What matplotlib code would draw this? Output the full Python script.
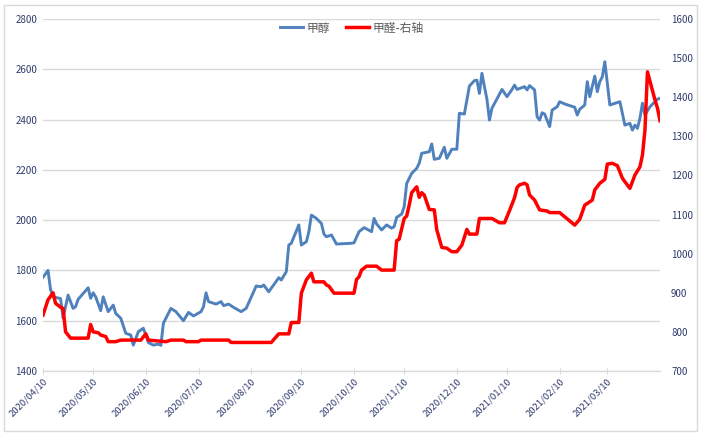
import matplotlib
matplotlib.use('Agg')
import matplotlib.pyplot as plt
from matplotlib.patches import Rectangle

plt.rcParams['font.family'] = ['Noto Sans CJK SC', 'DejaVu Sans']

# trading-day index -> price, methanol (left axis)
meoh_day = [0, 2, 3, 4, 7, 8, 10, 12, 13, 14, 18, 19, 20, 21, 23, 24, 26, 28, 29, 31,
            33, 35, 36, 38, 40, 41, 42, 44, 46, 47, 48, 51, 53, 56, 58, 60, 63, 64, 65, 66,
            69, 71, 72, 74, 76, 79, 81, 85, 87, 88, 90, 94, 95, 97, 98, 99, 102, 103, 105, 106,
            107, 109, 111, 112, 113, 115, 117, 123, 124, 126, 128, 129, 131, 132, 133, 135, 137, 139, 140, 141,
            143, 144, 145, 147, 149, 150, 151, 154, 155, 156, 158, 160, 161, 163, 165, 166, 168, 170, 172, 173,
            174, 175, 176, 177, 178, 179, 183, 185, 187, 188, 189, 192, 193, 194, 196, 197, 198, 199, 200, 202,
            203, 205, 206, 208, 212, 213, 214, 216, 217, 218, 220, 221, 222, 223, 224, 226, 230, 232, 234, 235,
            236, 237, 238, 239, 240, 242, 245, 246]
meoh_val = [1773, 1800, 1724, 1695, 1688, 1610, 1702, 1649, 1656, 1685, 1731, 1689, 1711, 1695, 1640, 1695, 1636, 1662, 1629, 1610,
            1550, 1543, 1503, 1556, 1570, 1543, 1513, 1503, 1507, 1502, 1590, 1649, 1636, 1600, 1633, 1619, 1636, 1656, 1711, 1676,
            1666, 1676, 1660, 1666, 1653, 1636, 1649, 1738, 1735, 1742, 1715, 1771, 1762, 1795, 1901, 1908, 1981, 1901, 1914, 1954,
            2020, 2007, 1987, 1945, 1934, 1941, 1905, 1908, 1910, 1954, 1970, 1965, 1954, 2007, 1985, 1961, 1981, 1968, 1974, 2011,
            2024, 2053, 2146, 2186, 2206, 2226, 2266, 2272, 2303, 2242, 2246, 2290, 2246, 2282, 2282, 2425, 2422, 2533, 2555, 2557,
            2504, 2584, 2531, 2481, 2398, 2445, 2520, 2491, 2520, 2537, 2520, 2531, 2518, 2535, 2518, 2411, 2398, 2427, 2422, 2372,
            2438, 2451, 2471, 2462, 2449, 2418, 2441, 2458, 2551, 2491, 2573, 2511, 2551, 2570, 2630, 2458, 2471, 2378, 2385, 2358,
            2378, 2365, 2405, 2465, 2418, 2451, 2481, 2485]

# formaldehyde (right axis)
hcho_day = [0, 2, 4, 5, 7, 8, 9, 10, 11, 18, 19, 20, 22, 23, 25, 26, 29, 31, 39, 41,
            42, 49, 51, 56, 57, 62, 63, 74, 75, 91, 94, 98, 99, 102, 103, 105, 107, 108, 112, 113,
            114, 116, 124, 125, 126, 127, 129, 133, 135, 140, 141, 142, 144, 145, 146, 147, 149, 150, 151, 152,
            154, 156, 157, 159, 161, 163, 165, 167, 169, 170, 173, 174, 179, 182, 184, 186, 188, 189, 190, 192,
            193, 194, 196, 198, 201, 202, 206, 212, 214, 216, 219, 220, 222, 224, 225, 227, 229, 231, 232, 234,
            236, 238, 239, 240, 241, 244, 245, 246]
hcho_val = [843, 882, 900, 873, 863, 860, 800, 792, 784, 784, 819, 800, 798, 792, 788, 775, 775, 779, 779, 795,
            779, 775, 779, 779, 775, 775, 779, 779, 773, 773, 795, 795, 824, 824, 899, 933, 950, 928, 928, 920,
            917, 899, 899, 934, 941, 958, 968, 968, 958, 958, 1033, 1037, 1090, 1096, 1124, 1156, 1171, 1144, 1156, 1150,
            1113, 1112, 1061, 1016, 1014, 1005, 1005, 1022, 1062, 1050, 1050, 1090, 1090, 1079, 1079, 1110, 1143, 1169, 1176, 1180,
            1176, 1150, 1137, 1112, 1109, 1105, 1105, 1073, 1088, 1124, 1137, 1163, 1180, 1190, 1229, 1231, 1225, 1193, 1184, 1167,
            1201, 1222, 1252, 1316, 1465, 1393, 1372, 1340]

tick_days = [0, 20, 41, 62, 83, 103, 124, 144, 165, 185, 206, 225]
tick_labels = ['2020/04/10', '2020/05/10', '2020/06/10', '2020/07/10', '2020/08/10', '2020/09/10',
               '2020/10/10', '2020/11/10', '2020/12/10', '2021/01/10', '2021/02/10', '2021/03/10']

label_color = '#2e3b6e'
grid_color = '#d9d9d9'

fig = plt.figure(figsize=(7.01, 4.36), dpi=100)
ax = fig.add_axes([43 / 701, 65 / 436, 617 / 701, 352 / 436])
ax2 = ax.twinx()

l1, = ax.plot(meoh_day, meoh_val, color='#4f81bd', lw=2.1, label='甲醇')
l2, = ax2.plot(hcho_day, hcho_val, color='#ff0000', lw=2.5, label='甲醛-右轴')

ax.set_xlim(0, 246)
ax.set_ylim(1400, 2800)
ax2.set_ylim(700, 1600)
ax.set_yticks(range(1400, 2801, 200))
ax2.set_yticks(range(700, 1601, 100))
ax.set_xticks(tick_days)
ax.set_xticklabels(tick_labels, rotation=45, ha='right', va='top', rotation_mode='anchor')

ax.yaxis.grid(True, color=grid_color, lw=1)
ax.set_axisbelow(True)
for a in (ax, ax2):
    for s in ('top', 'left', 'right'):
        a.spines[s].set_visible(False)
    a.spines['bottom'].set_color(grid_color)
ax.tick_params(axis='y', length=0, labelsize=7, colors=label_color, pad=4)
ax2.tick_params(axis='y', length=0, labelsize=7, colors=label_color, pad=8)
ax.tick_params(axis='x', direction='inout', length=4, color=grid_color, labelsize=6.8,
               labelcolor=label_color, pad=2)

fig.legend(handles=[l1, l2], loc='center', bbox_to_anchor=(352 / 701, 1 - 28 / 436), ncol=2,
           frameon=False, fontsize=8.5, handlelength=1.9, handletextpad=0.3, columnspacing=1.4,
           labelcolor='#595959')

fig.add_artist(Rectangle((4 / 701, 5 / 436), 693 / 701, 426 / 436, transform=fig.transFigure,
                         fill=False, edgecolor=grid_color, lw=1))

fig.savefig('out.png', dpi=100)
